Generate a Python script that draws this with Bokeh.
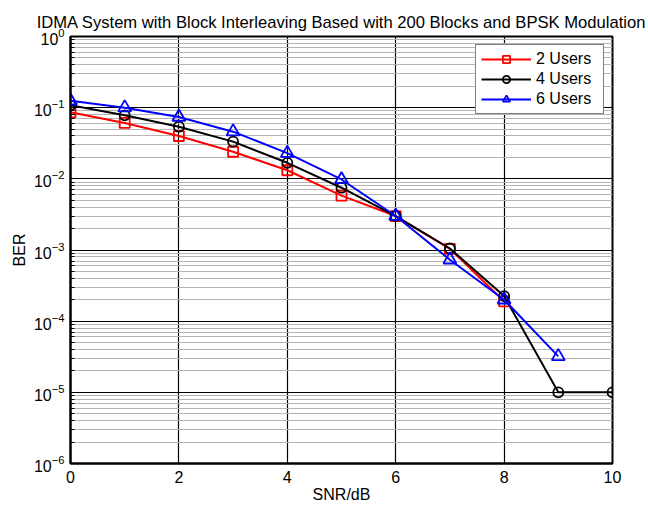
from bokeh.plotting import figure
from bokeh.models import (Range1d, FixedTicker, LogTickFormatter,
                          ColumnDataSource, Legend, LegendItem)
from bokeh.embed import file_html
from bokeh.resources import INLINE

# ---- data ----
snr_2 = [0, 1, 2, 3, 4, 5, 6, 7, 8]
ber_2 = [0.086, 0.061, 0.040, 0.024, 0.0132, 0.0058, 0.0030, 0.00104, 0.00019]
snr_4 = [0, 1, 2, 3, 4, 5, 6, 7, 8, 9, 10]
ber_4 = [0.108, 0.078, 0.054, 0.0333, 0.0168, 0.0075, 0.0030, 0.00105, 0.000225, 1e-5, 1e-5]
snr_6 = [0, 1, 2, 3, 4, 5, 6, 7, 8, 9]
ber_6 = [0.125, 0.100, 0.074, 0.046, 0.023, 0.0098, 0.0030, 0.00073, 0.0002, 3.2e-5]

x_ticks = [0, 2, 4, 6, 8, 10]
y_exponents = [-6, -5, -4, -3, -2, -1, 0]
y_ticks = [10.0 ** e for e in y_exponents]
y_minor = [m * 10.0 ** e for e in y_exponents[:-1] for m in range(2, 10)]
series_names = ["2 Users", "4 Users", "6 Users"]

FONT = "Liberation Sans"

p = figure(width=648, height=508, output_backend="svg", toolbar_location=None,
           y_axis_type="log", x_range=Range1d(0, 10), y_range=Range1d(1e-6, 1),
           min_border_left=70, min_border_right=36, min_border_top=36, min_border_bottom=45,
           title="IDMA System with Block Interleaving Based with 200 Blocks and BPSK Modulation")

p.title.align = "center"
p.title.text_font = FONT
p.title.text_font_size = "16.6px"
p.title.text_font_style = "normal"
p.title.text_color = "black"

p.outline_line_color = "black"
p.outline_line_width = 2
p.background_fill_color = "white"
p.border_fill_color = "white"

# x axis
p.xaxis.ticker = FixedTicker(ticks=x_ticks)
p.xaxis.major_label_text_font = FONT
p.xaxis.major_label_text_font_size = "16px"
p.xaxis.major_label_text_color = "black"
p.xaxis.major_label_standoff = 7
p.xaxis.axis_label = "SNR/dB"
p.xaxis.axis_label_text_font = FONT
p.xaxis.axis_label_text_font_size = "16px"
p.xaxis.axis_label_text_font_style = "normal"
p.xaxis.axis_label_text_color = "black"
p.xaxis.axis_label_standoff = 0
p.xaxis.major_tick_in = 6
p.xaxis.major_tick_out = 0
p.xaxis.minor_tick_in = 0
p.xaxis.minor_tick_out = 0
p.xaxis.axis_line_color = "black"
p.xaxis.axis_line_width = 2

# y axis
p.yaxis.ticker = FixedTicker(ticks=y_ticks, minor_ticks=y_minor)
p.yaxis.formatter = LogTickFormatter()
p.yaxis.major_label_text_font = FONT
p.yaxis.major_label_text_font_size = "16px"
p.yaxis.major_label_text_color = "black"
p.yaxis.major_label_standoff = 6
p.yaxis.axis_label = "BER"
p.yaxis.axis_label_text_font = FONT
p.yaxis.axis_label_text_font_size = "16px"
p.yaxis.axis_label_text_font_style = "normal"
p.yaxis.axis_label_text_color = "black"
p.yaxis.axis_label_standoff = 3
p.yaxis.major_tick_in = 6
p.yaxis.major_tick_out = 0
p.yaxis.minor_tick_in = 4
p.yaxis.minor_tick_out = 0
p.yaxis.axis_line_color = "black"
p.yaxis.axis_line_width = 2

# grids
p.xgrid.grid_line_color = "black"
p.xgrid.grid_line_width = 1.2
p.ygrid.grid_line_color = "black"
p.ygrid.grid_line_width = 1.2
p.ygrid.minor_grid_line_color = "#b4b4b4"
p.ygrid.minor_grid_line_width = 1

# series
items = []
specs = [
    (snr_2, ber_2, "red", "square", 10),
    (snr_4, ber_4, "black", "circle", 10),
    (snr_6, ber_6, "blue", "triangle", 13),
]
for (xs, ys, col, mk, sz), name in zip(specs, series_names):
    src = ColumnDataSource(dict(x=xs, y=ys))
    ln = p.line("x", "y", source=src, line_color=col, line_width=2)
    sc = p.scatter("x", "y", source=src, marker=mk, size=sz, line_color=col,
                   line_width=1.8, fill_color=None)
    items.append(LegendItem(label=name, renderers=[ln, sc]))

legend = Legend(items=items, location="top_right", margin=8, padding=5,
                glyph_width=50, glyph_height=18, label_height=18, spacing=2,
                label_standoff=5, label_width=62,
                label_text_font=FONT, label_text_font_size="16px",
                label_text_color="black",
                border_line_color="black", border_line_width=1,
                background_fill_color="white", background_fill_alpha=1)
p.add_layout(legend, "center")

open("out.html", "w").write(file_html(p, INLINE))
